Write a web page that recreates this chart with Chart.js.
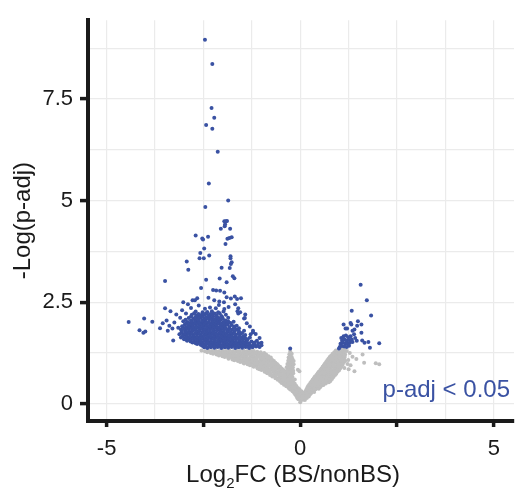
<!DOCTYPE html>
<html>
<head>
<meta charset="utf-8">
<script src="https://cdn.jsdelivr.net/npm/chart.js@4.4.1/dist/chart.umd.min.js"></script>
<style>
  html, body { margin: 0; padding: 0; background: #ffffff; }
  #wrap { width: 516px; height: 497px; }
</style>
</head>
<body>
<div id="wrap"><canvas id="c" width="516" height="497"></canvas></div>
<script>
// ---------- tick / grid values ----------
const xGridValues = [-5, -3.75, -2.5, -1.25, 0, 1.25, 2.5, 3.75, 5];
const xTickMarkValues = [-5, -2.5, 0, 2.5, 5];
const xTickLabels = ['-5', '0', '5'];
const xTickLabelValues = [-5, 0, 5];
const yGridValues = [0, 1.25, 2.5, 3.75, 5, 6.25, 7.5, 8.75];
const yTickLabelValues = [0, 2.5, 5, 7.5];
const yTickLabels = ['0', '2.5', '5', '7.5'];

// ---------- labels ----------
const xTitleMain = 'Log';
const xTitleSub = '2';
const xTitleRest = 'FC (BS/nonBS)';
const yTitle = '-Log(p-adj)';
const annotationText = 'p-adj < 0.05';

// ---------- significant genes (p-adj < 0.05), [log2FC, -log(p)] ----------
const sigPoints = [
  // high outliers
  [-2.46,8.96],[-2.27,8.36],[-2.29,7.28],[-2.22,7.04],[-2.43,6.86],[-2.27,6.77],[-2.13,6.20],
  [-2.36,5.42],[-1.86,5.00],[-2.45,4.84],[-1.96,4.49],[-1.92,4.49],[-1.89,4.50],[-1.95,4.37],[-1.94,4.42],
  [-1.81,4.31],[-2.05,4.31],[-2.70,4.14],[-2.53,4.07],[-2.51,4.04],[-2.38,4.11],[-1.88,4.06],[-1.83,4.08],
  [-1.77,4.10],[-1.93,3.93],[-2.48,3.82],[-2.58,3.71],[-2.35,3.65],[-2.60,3.58],[-2.49,3.58],[-1.80,3.63],
  [-1.80,3.58],[-1.77,3.48],[-1.79,3.44],[-2.93,3.50],[-2.03,3.35],[-1.82,3.34],[-2.89,3.30],[-1.74,3.14],
  [-1.70,3.09],[-2.08,3.08],[-1.90,2.99],[-2.43,3.05],[-3.49,3.02],[-2.56,2.85],[-2.25,2.80],[-2.17,2.79],
  [-2.07,2.78],[-1.96,2.74],[-1.90,2.62],[-1.79,2.59],[-1.69,2.64],[-1.63,2.58],[-1.53,2.60],[-2.37,2.61],
  [-2.22,2.55],[-2.09,2.52],[-1.97,2.50],[-3.02,2.50],[-2.78,2.55],[-2.72,2.55],[-2.66,2.60],
  // left outliers
  [-4.43,2.01],[-4.03,2.10],[-3.82,2.02],[-4.15,1.81],[-4.05,1.75],[-4.00,1.78],[-3.62,1.86],[-3.28,1.56],
  [-3.49,2.35],[-3.35,2.28],[-3.20,2.20],[-3.05,2.30],[-3.10,2.12],[-2.95,2.22],
  [-3.55,1.98],[-3.45,2.05],[-3.38,1.92],[-3.30,1.85],[-3.42,1.80],[-3.25,2.00],
  // right edge of left cluster
  [-1.55,2.25],[-1.45,2.10],[-1.38,1.98],[-1.30,1.90],[-1.22,1.80],[-1.15,1.72],[-1.05,1.62],[-1.00,1.50],
  [-1.42,2.20],[-1.60,2.35],[-1.68,2.45],[-1.22,1.76],[-1.00,1.44],[-1.43,2.11],[-1.60,2.22],
  // dense cluster
  [-2.48,1.39],[-2.40,1.37],[-2.31,1.39],[-2.22,1.38],[-2.13,1.40],[-2.04,1.37],[-1.95,1.39],[-1.86,1.38],
  [-1.77,1.40],[-1.68,1.37],[-1.59,1.39],[-1.50,1.38],[-1.41,1.40],[-1.32,1.37],[-1.23,1.39],[-1.14,1.41],[-1.05,1.40],
  [-2.53,1.43],[-2.44,1.41],[-2.35,1.42],[-2.26,1.43],[-2.17,1.41],[-2.08,1.42],[-1.99,1.43],[-1.90,1.41],
  [-1.81,1.42],[-1.72,1.43],[-1.63,1.41],[-1.54,1.42],[-1.45,1.43],[-1.36,1.41],[-1.27,1.42],[-1.18,1.44],[-1.10,1.43],
  [-2.66,1.47],[-2.57,1.45],[-2.49,1.46],[-2.39,1.48],[-2.30,1.45],[-2.21,1.47],[-2.12,1.46],[-2.03,1.44],
  [-1.94,1.47],[-1.85,1.46],[-1.76,1.48],[-1.67,1.45],[-1.58,1.47],[-1.49,1.46],[-1.40,1.48],[-1.31,1.45],[-1.20,1.47],[-1.08,1.49],
  [-2.78,1.51],[-2.70,1.49],[-2.61,1.50],[-2.52,1.51],[-2.43,1.49],[-2.34,1.50],[-2.25,1.51],[-2.16,1.49],
  [-2.07,1.50],[-1.98,1.51],[-1.89,1.49],[-1.80,1.50],[-1.71,1.51],[-1.62,1.49],[-1.53,1.50],[-1.44,1.51],[-1.33,1.49],[-1.18,1.51],
  [-2.92,1.55],[-2.83,1.53],[-2.74,1.54],[-2.65,1.56],[-2.56,1.53],[-2.47,1.55],[-2.38,1.54],[-2.29,1.52],
  [-2.20,1.55],[-2.11,1.54],[-2.02,1.56],[-1.93,1.53],[-1.84,1.55],[-1.75,1.54],[-1.66,1.52],[-1.57,1.55],
  [-1.48,1.54],[-1.38,1.56],[-1.26,1.53],[-1.12,1.55],
  [-3.00,1.59],[-2.93,1.57],[-2.84,1.58],[-2.75,1.59],[-2.66,1.57],[-2.57,1.58],[-2.48,1.59],[-2.39,1.57],
  [-2.30,1.58],[-2.21,1.59],[-2.12,1.57],[-2.03,1.58],[-1.94,1.59],[-1.85,1.57],[-1.76,1.58],[-1.67,1.59],
  [-1.58,1.57],[-1.48,1.58],[-1.36,1.59],
  [-3.08,1.63],[-2.98,1.61],[-2.89,1.62],[-2.80,1.64],[-2.71,1.61],[-2.62,1.63],[-2.53,1.62],[-2.44,1.60],
  [-2.35,1.63],[-2.26,1.62],[-2.17,1.64],[-2.08,1.61],[-1.99,1.63],[-1.90,1.62],[-1.81,1.60],[-1.72,1.63],
  [-1.63,1.62],[-1.53,1.64],[-1.42,1.61],[-1.30,1.63],
  [-3.03,1.67],[-2.94,1.65],[-2.85,1.66],[-2.76,1.67],[-2.67,1.65],[-2.58,1.66],[-2.49,1.67],[-2.40,1.65],
  [-2.31,1.66],[-2.22,1.67],[-2.13,1.65],[-2.04,1.66],[-1.95,1.67],[-1.86,1.65],[-1.77,1.66],[-1.67,1.67],
  [-1.57,1.65],[-1.46,1.66],
  [-3.12,1.71],[-3.02,1.69],[-2.93,1.70],[-2.84,1.72],[-2.75,1.69],[-2.66,1.71],[-2.57,1.70],[-2.48,1.68],
  [-2.39,1.71],[-2.30,1.70],[-2.21,1.72],[-2.12,1.69],[-2.03,1.71],[-1.94,1.70],[-1.85,1.68],[-1.76,1.71],
  [-1.66,1.70],[-1.55,1.72],[-1.42,1.69],[-1.28,1.71],
  [-3.07,1.75],[-2.98,1.73],[-2.89,1.74],[-2.80,1.75],[-2.71,1.73],[-2.62,1.74],[-2.53,1.75],[-2.44,1.73],
  [-2.35,1.74],[-2.26,1.75],[-2.17,1.73],[-2.08,1.74],[-1.99,1.75],[-1.90,1.73],[-1.81,1.74],[-1.71,1.75],
  [-1.60,1.73],[-1.50,1.74],
  [-3.05,1.79],[-2.96,1.77],[-2.87,1.78],[-2.78,1.80],[-2.69,1.77],[-2.60,1.79],[-2.51,1.78],[-2.42,1.76],
  [-2.33,1.79],[-2.24,1.78],[-2.15,1.80],[-2.06,1.77],[-1.97,1.79],[-1.88,1.78],[-1.79,1.76],[-1.69,1.79],
  [-1.58,1.78],[-1.45,1.80],
  [-3.08,1.83],[-2.96,1.81],[-2.87,1.82],[-2.78,1.83],[-2.69,1.81],[-2.60,1.82],[-2.51,1.83],[-2.42,1.81],
  [-2.33,1.82],[-2.24,1.83],[-2.15,1.81],[-2.06,1.82],[-1.97,1.83],[-1.87,1.81],[-1.76,1.82],[-1.64,1.83],
  [-3.15,1.87],[-3.00,1.85],[-2.91,1.86],[-2.82,1.88],[-2.73,1.85],[-2.64,1.87],[-2.55,1.86],[-2.46,1.84],
  [-2.37,1.87],[-2.28,1.86],[-2.19,1.88],[-2.10,1.85],[-2.01,1.87],[-1.92,1.86],[-1.82,1.84],[-1.71,1.87],[-1.58,1.86],
  [-3.05,1.91],[-2.95,1.89],[-2.86,1.90],[-2.77,1.91],[-2.68,1.89],[-2.59,1.90],[-2.50,1.91],[-2.41,1.89],
  [-2.32,1.90],[-2.23,1.91],[-2.14,1.89],[-2.05,1.90],[-1.95,1.91],[-1.83,1.89],[-1.70,1.90],
  [-2.98,1.95],[-2.88,1.93],[-2.79,1.94],[-2.70,1.96],[-2.61,1.93],[-2.52,1.95],[-2.43,1.94],[-2.34,1.92],
  [-2.25,1.95],[-2.16,1.94],[-2.07,1.96],[-1.98,1.93],[-1.88,1.95],[-1.77,1.94],[-1.64,1.92],
  [-2.94,1.99],[-2.84,1.97],[-2.75,1.98],[-2.66,1.99],[-2.57,1.97],[-2.48,1.98],[-2.39,1.99],[-2.30,1.97],
  [-2.21,1.98],[-2.12,1.99],[-2.03,1.97],[-1.92,1.98],[-1.80,1.99],
  [-3.02,2.03],[-2.90,2.01],[-2.80,2.02],[-2.71,2.04],[-2.62,2.01],[-2.53,2.03],[-2.44,2.02],[-2.35,2.00],
  [-2.26,2.03],[-2.17,2.02],[-2.08,2.04],[-1.98,2.01],[-1.86,2.03],[-1.72,2.02],
  [-2.96,2.07],[-2.82,2.05],[-2.71,2.06],[-2.62,2.07],[-2.53,2.05],[-2.44,2.06],[-2.35,2.07],[-2.26,2.05],
  [-2.16,2.06],[-2.05,2.07],[-1.93,2.05],
  [-2.88,2.11],[-2.76,2.09],[-2.66,2.10],[-2.57,2.12],[-2.48,2.09],[-2.39,2.11],[-2.30,2.10],[-2.21,2.08],
  [-2.11,2.11],[-2.00,2.10],[-1.86,2.12],
  [-2.82,2.15],[-2.71,2.13],[-2.62,2.14],[-2.52,2.15],[-2.43,2.13],[-2.34,2.14],[-2.25,2.15],[-2.15,2.13],[-2.02,2.14],
  [-2.80,2.19],[-2.68,2.17],[-2.58,2.18],[-2.47,2.20],[-2.37,2.17],[-2.27,2.19],[-2.16,2.18],[-2.04,2.16],[-1.92,2.19],
  [-2.74,2.23],[-2.63,2.21],[-2.52,2.22],[-2.42,2.23],[-2.32,2.21],[-2.21,2.22],[-2.08,2.23],
  [-2.70,2.27],[-2.52,2.25],[-2.40,2.26],[-2.28,2.28],[-2.12,2.25],[-1.98,2.27],
  [-2.82,2.36],[-2.46,2.34],[-2.33,2.37],[-2.18,2.35],[-1.96,2.33],
  [-2.90,2.45],[-2.62,2.42],[-2.10,2.43],[-1.85,2.38],[-1.62,2.28],
  // spike top
  [-0.26,1.36],
  // right cluster
  [1.56,2.93],[1.72,2.55],[1.33,2.29],[1.83,2.17],[1.12,1.95],[1.30,1.99],[1.32,1.95],[1.49,2.03],
  [1.58,1.95],[1.47,1.92],[1.17,1.85],[1.21,1.85],[1.40,1.83],[1.35,1.80],[1.58,1.75],[1.39,1.71],
  [1.06,1.62],[1.12,1.66],[1.18,1.68],[1.24,1.64],[1.30,1.66],[1.08,1.55],[1.14,1.58],[1.20,1.56],
  [1.26,1.57],[1.33,1.58],[1.04,1.48],[1.10,1.50],[1.16,1.49],[1.22,1.48],[1.28,1.50],[1.35,1.52],
  [1.02,1.40],[1.08,1.42],[1.14,1.41],[1.20,1.40],[1.26,1.43],[1.00,1.36],[1.42,1.62],[1.46,1.55],
  [1.60,1.56],[1.66,1.50],[1.76,1.52],[2.04,1.49],[1.80,1.38]
];

// ---------- non-significant genes ----------
const nsPoints = [
  // left arm
  [-2.55,1.31],[-2.46,1.29],[-2.37,1.31],[-2.28,1.30],[-2.19,1.32],[-2.10,1.29],[-2.01,1.31],[-1.92,1.30],
  [-1.83,1.32],[-1.74,1.29],[-1.65,1.31],[-1.56,1.30],[-1.47,1.32],[-1.38,1.29],[-1.29,1.31],[-1.20,1.30],
  [-1.11,1.28],[-1.02,1.27],[-0.93,1.25],
  [-2.40,1.27],[-2.31,1.25],[-2.22,1.26],[-2.13,1.27],[-2.04,1.25],[-1.95,1.26],[-1.86,1.27],[-1.77,1.25],
  [-1.68,1.26],[-1.59,1.27],[-1.50,1.25],[-1.41,1.26],[-1.32,1.27],[-1.23,1.25],[-1.14,1.26],[-1.05,1.24],[-0.96,1.22],[-0.88,1.21],
  [-2.25,1.23],[-2.16,1.21],[-2.07,1.22],[-1.98,1.24],[-1.89,1.21],[-1.80,1.23],[-1.71,1.22],[-1.62,1.20],
  [-1.53,1.23],[-1.44,1.22],[-1.35,1.24],[-1.26,1.21],[-1.17,1.23],[-1.08,1.22],[-0.99,1.20],[-0.90,1.19],[-0.82,1.17],
  [-2.10,1.19],[-2.01,1.17],[-1.92,1.18],[-1.83,1.19],[-1.74,1.17],[-1.65,1.18],[-1.56,1.19],[-1.47,1.17],
  [-1.38,1.18],[-1.29,1.19],[-1.20,1.17],[-1.11,1.18],[-1.02,1.19],[-0.93,1.17],[-0.84,1.16],[-0.76,1.14],
  [-1.95,1.15],[-1.86,1.13],[-1.77,1.14],[-1.68,1.16],[-1.59,1.13],[-1.50,1.15],[-1.41,1.14],[-1.32,1.12],
  [-1.23,1.15],[-1.14,1.14],[-1.05,1.16],[-0.96,1.13],[-0.87,1.12],[-0.78,1.10],[-0.72,1.08],
  [-1.85,1.11],[-1.75,1.09],[-1.66,1.10],[-1.57,1.11],[-1.48,1.09],[-1.39,1.10],[-1.30,1.11],[-1.21,1.09],
  [-1.12,1.10],[-1.03,1.11],[-0.94,1.09],[-0.85,1.10],[-0.76,1.08],[-0.68,1.05],
  [-1.70,1.07],[-1.61,1.05],[-1.52,1.06],[-1.43,1.08],[-1.34,1.05],[-1.25,1.07],[-1.16,1.06],[-1.07,1.04],
  [-0.98,1.07],[-0.89,1.06],[-0.80,1.05],[-0.71,1.03],[-0.64,1.01],
  [-1.55,1.03],[-1.47,1.01],[-1.38,1.02],[-1.29,1.03],[-1.20,1.01],[-1.11,1.02],[-1.02,1.03],[-0.93,1.01],
  [-0.84,1.02],[-0.75,1.01],[-0.67,0.99],[-0.60,0.98],
  [-1.45,0.99],[-1.36,0.97],[-1.27,0.98],[-1.18,1.00],[-1.09,0.97],[-1.00,0.99],[-0.91,0.98],[-0.82,0.96],
  [-0.73,0.99],[-0.64,0.97],[-0.57,0.95],
  [-1.30,0.95],[-1.22,0.93],[-1.13,0.94],[-1.04,0.95],[-0.95,0.93],[-0.86,0.94],[-0.77,0.95],[-0.68,0.93],[-0.60,0.94],[-0.52,0.91],
  [-1.20,0.91],[-1.11,0.89],[-1.02,0.90],[-0.93,0.92],[-0.84,0.89],[-0.75,0.91],[-0.66,0.90],[-0.57,0.88],[-0.48,0.87],
  [-1.10,0.87],[-1.05,0.85],[-0.96,0.86],[-0.87,0.87],[-0.78,0.85],[-0.69,0.86],[-0.60,0.87],[-0.51,0.85],[-0.44,0.84],
  [-1.00,0.83],[-0.91,0.81],[-0.82,0.82],[-0.73,0.84],[-0.64,0.81],[-0.55,0.83],[-0.46,0.82],[-0.40,0.80],
  [-0.92,0.79],[-0.87,0.77],[-0.78,0.78],[-0.69,0.79],[-0.60,0.77],[-0.51,0.78],[-0.43,0.79],[-0.37,0.76],
  [-0.85,0.75],[-0.76,0.73],[-0.67,0.74],[-0.58,0.76],[-0.49,0.73],[-0.40,0.75],[-0.34,0.72],
  [-0.78,0.71],[-0.72,0.69],[-0.63,0.70],[-0.54,0.71],[-0.45,0.69],[-0.37,0.70],[-0.31,0.69],
  [-0.72,0.67],[-0.63,0.65],[-0.54,0.66],[-0.45,0.68],[-0.36,0.65],[-0.28,0.66],
  [-0.64,0.63],[-0.58,0.61],[-0.49,0.62],[-0.40,0.63],[-0.32,0.61],[-0.25,0.62],
  [-0.58,0.59],[-0.49,0.57],[-0.40,0.58],[-0.31,0.60],[-0.22,0.57],
  [-0.52,0.55],[-0.44,0.53],[-0.35,0.54],[-0.26,0.55],[-0.18,0.53],
  [-0.48,0.51],[-0.39,0.49],[-0.30,0.50],[-0.21,0.52],[-0.14,0.49],
  [-0.42,0.47],[-0.32,0.45],[-0.23,0.46],[-0.15,0.47],
  [-0.36,0.43],[-0.27,0.41],[-0.18,0.42],[-0.10,0.44],
  [-0.30,0.39],[-0.22,0.37],[-0.13,0.38],[-0.06,0.39],
  [-0.26,0.35],[-0.17,0.33],[-0.09,0.34],[-0.02,0.36],
  [-0.20,0.31],[-0.12,0.29],[-0.04,0.30],[0.03,0.31],
  [-0.16,0.27],[-0.08,0.25],[0.00,0.26],[0.07,0.28],
  [-0.13,0.23],[-0.06,0.21],[0.01,0.22],[0.08,0.23],
  [-0.10,0.19],[-0.03,0.17],[0.04,0.18],[0.10,0.20],
  [-0.08,0.15],[0.00,0.13],[0.05,0.14],
  [-0.05,0.11],[0.02,0.09],[0.07,0.10],[0.00,0.04],
  // spike near -0.25
  [-0.26,1.30],[-0.25,1.26],[-0.28,1.22],[-0.22,1.23],[-0.26,1.18],[-0.30,1.14],[-0.22,1.15],[-0.28,1.10],
  [-0.20,1.10],[-0.31,1.06],[-0.24,1.07],[-0.17,1.05],[-0.29,1.02],[-0.21,1.02],[-0.33,0.98],[-0.25,0.99],
  [-0.17,0.97],[-0.30,0.94],[-0.22,0.94],[-0.35,0.90],[-0.27,0.91],[-0.19,0.89],[-0.31,0.86],[-0.22,0.86],
  [-0.34,0.82],[-0.26,0.83],[-0.18,0.81],[-0.30,0.78],[-0.22,0.78],[-0.26,0.74],[-0.18,0.75],[-0.23,0.70],
  [-0.20,0.66],[-0.14,0.60],[-0.06,0.84],[-0.02,0.80],
  // right arm
  [0.05,0.11],[0.12,0.09],[0.10,0.15],[0.17,0.14],
  [0.08,0.19],[0.15,0.17],[0.22,0.18],
  [0.11,0.23],[0.18,0.22],[0.25,0.23],
  [0.12,0.27],[0.20,0.25],[0.28,0.26],
  [0.14,0.31],[0.22,0.30],[0.30,0.31],[0.36,0.29],
  [0.16,0.35],[0.24,0.33],[0.32,0.34],[0.40,0.36],
  [0.18,0.39],[0.26,0.37],[0.34,0.38],[0.42,0.39],[0.48,0.37],
  [0.20,0.43],[0.28,0.41],[0.36,0.42],[0.44,0.44],[0.52,0.41],
  [0.23,0.47],[0.31,0.45],[0.39,0.46],[0.47,0.47],[0.55,0.45],[0.60,0.46],
  [0.26,0.51],[0.34,0.49],[0.42,0.50],[0.50,0.52],[0.58,0.49],[0.66,0.50],
  [0.29,0.55],[0.37,0.53],[0.45,0.54],[0.53,0.55],[0.61,0.53],[0.69,0.54],[0.74,0.53],
  [0.32,0.59],[0.40,0.57],[0.48,0.58],[0.56,0.60],[0.64,0.57],[0.72,0.59],[0.78,0.56],
  [0.35,0.63],[0.43,0.61],[0.51,0.62],[0.59,0.63],[0.67,0.61],[0.75,0.62],[0.82,0.61],
  [0.38,0.67],[0.46,0.65],[0.54,0.66],[0.62,0.68],[0.70,0.65],[0.78,0.67],[0.86,0.66],
  [0.42,0.71],[0.50,0.69],[0.58,0.70],[0.66,0.71],[0.74,0.69],[0.82,0.70],[0.90,0.71],
  [0.45,0.75],[0.53,0.73],[0.61,0.74],[0.69,0.76],[0.77,0.73],[0.85,0.75],[0.93,0.74],
  [0.48,0.79],[0.56,0.77],[0.64,0.78],[0.72,0.79],[0.80,0.77],[0.88,0.78],[0.96,0.79],
  [0.52,0.83],[0.60,0.81],[0.68,0.82],[0.76,0.84],[0.84,0.81],[0.92,0.83],[1.00,0.82],
  [0.55,0.87],[0.63,0.85],[0.71,0.86],[0.79,0.87],[0.87,0.85],[0.95,0.86],[1.03,0.87],
  [0.58,0.91],[0.66,0.89],[0.74,0.90],[0.82,0.92],[0.90,0.89],[0.98,0.91],[1.05,0.90],
  [0.61,0.95],[0.69,0.93],[0.77,0.94],[0.85,0.95],[0.93,0.93],[1.01,0.94],[1.08,0.95],
  [0.64,0.99],[0.72,0.97],[0.80,0.98],[0.88,1.00],[0.96,0.97],[1.04,0.99],[1.10,0.98],
  [0.67,1.03],[0.75,1.01],[0.83,1.02],[0.91,1.03],[0.99,1.01],[1.07,1.02],[1.13,1.03],
  [0.70,1.07],[0.78,1.05],[0.86,1.06],[0.94,1.08],[1.02,1.05],[1.10,1.07],[1.16,1.06],
  [0.73,1.11],[0.81,1.09],[0.89,1.10],[0.97,1.11],[1.05,1.09],[1.13,1.10],
  [0.76,1.15],[0.84,1.13],[0.92,1.14],[1.00,1.16],[1.08,1.13],[1.15,1.15],
  [0.80,1.19],[0.88,1.17],[0.96,1.18],[1.04,1.19],[1.12,1.17],
  [0.84,1.23],[0.92,1.21],[1.00,1.22],[1.08,1.24],[1.16,1.21],
  [0.88,1.27],[0.96,1.25],[1.04,1.26],[1.12,1.27],
  [0.92,1.31],[1.00,1.29],[1.08,1.30],[1.16,1.31],
  [1.02,1.36],[1.10,1.35],
  // right scattered
  [1.35,1.16],[1.24,1.08],[1.22,0.98],[1.14,0.88],[1.40,0.80],[1.61,1.21],[1.65,1.01],[1.95,1.00],
  [2.04,0.97],[1.30,0.95],[1.28,1.25],[1.20,1.30],[1.45,1.10],[1.25,0.85]
];

// ---------- styles ----------
const FONT = '"Liberation Sans", Arial, Helvetica, sans-serif';
const BLUE = '#3a52a3';
const GREY = '#bebebe';
const INK = '#1a1a1a';
const GRID = '#ebebeb';

const toXY = arr => arr.map(p => ({ x: p[0], y: p[1] }));
const near = (v, list) => list.some(t => Math.abs(t - v) < 1e-9);

const textPlugin = {
  id: 'texts',
  afterDraw(chart) {
    const { ctx, chartArea, scales } = chart;
    ctx.save();
    ctx.fillStyle = INK;
    ctx.textBaseline = 'alphabetic';
    const big = '24px ' + FONT;
    const small = '15px ' + FONT;
    // x-axis title with subscript
    ctx.font = big;
    const w1 = ctx.measureText(xTitleMain).width;
    const w3 = ctx.measureText(xTitleRest).width;
    ctx.font = small;
    const w2 = ctx.measureText(xTitleSub).width;
    const total = w1 + w2 + w3;
    let sx = (chartArea.left + chartArea.right) / 2 - 8 - total / 2;
    const by = 482;
    ctx.textAlign = 'left';
    ctx.font = big; ctx.fillText(xTitleMain, sx, by); sx += w1;
    ctx.font = small; ctx.fillText(xTitleSub, sx, by + 6); sx += w2;
    ctx.font = big; ctx.fillText(xTitleRest, sx, by);
    // y-axis title
    ctx.save();
    ctx.translate(30, (chartArea.top + chartArea.bottom) / 2);
    ctx.rotate(-Math.PI / 2);
    ctx.textAlign = 'center';
    ctx.font = big;
    ctx.fillText(yTitle, 0, 0);
    ctx.restore();
    // annotation
    ctx.fillStyle = BLUE;
    ctx.font = big;
    ctx.textAlign = 'right';
    ctx.fillText(annotationText, chartArea.right - 4, scales.y.getPixelForValue(0.16));
    ctx.restore();
  }
};

new Chart(document.getElementById('c'), {
  type: 'scatter',
  data: {
    datasets: [
      { label: 'p-adj < 0.05', data: toXY(sigPoints), backgroundColor: BLUE, borderWidth: 0, pointRadius: 2, pointHoverRadius: 2 },
      { label: 'ns', data: toXY(nsPoints), backgroundColor: GREY, borderWidth: 0, pointRadius: 2, pointHoverRadius: 2 }
    ]
  },
  options: {
    responsive: false,
    animation: false,
    devicePixelRatio: 1,
    layout: { padding: { top: 9, left: 0, right: 0, bottom: 0 } },
    plugins: { legend: { display: false }, tooltip: { enabled: false } },
    scales: {
      x: {
        type: 'linear',
        min: -5.48,
        max: 5.52,
        afterBuildTicks: s => { s.ticks = xGridValues.map(v => ({ value: v })); },
        afterFit: s => { s.height = 76; },
        ticks: {
          autoSkip: false,
          maxRotation: 0,
          padding: 9,
          color: INK,
          font: { family: FONT, size: 22 },
          callback: v => { const i = xTickLabelValues.findIndex(t => Math.abs(t - v) < 1e-9); return i >= 0 ? xTickLabels[i] : ''; }
        },
        grid: {
          color: GRID,
          lineWidth: 1.2,
          drawTicks: true,
          tickLength: 6,
          tickWidth: 3.5,
          tickColor: c => (c.tick && near(c.tick.value, xTickMarkValues)) ? INK : 'rgba(0,0,0,0)'
        },
        border: { display: true, color: INK, width: 4 }
      },
      y: {
        type: 'linear',
        min: -0.424,
        max: 9.44,
        afterBuildTicks: s => { s.ticks = yGridValues.map(v => ({ value: v })); },
        afterFit: s => { s.width = 88; },
        ticks: {
          autoSkip: false,
          padding: 7,
          color: INK,
          font: { family: FONT, size: 22 },
          callback: v => { const i = yTickLabelValues.findIndex(t => Math.abs(t - v) < 1e-9); return i >= 0 ? yTickLabels[i] : ''; }
        },
        grid: {
          color: GRID,
          lineWidth: 1.2,
          drawTicks: true,
          tickLength: 8,
          tickWidth: 3.5,
          tickColor: c => (c.tick && near(c.tick.value, yTickLabelValues)) ? INK : 'rgba(0,0,0,0)'
        },
        border: { display: true, color: INK, width: 4 }
      }
    }
  },
  plugins: [textPlugin]
});
</script>
</body>
</html>
